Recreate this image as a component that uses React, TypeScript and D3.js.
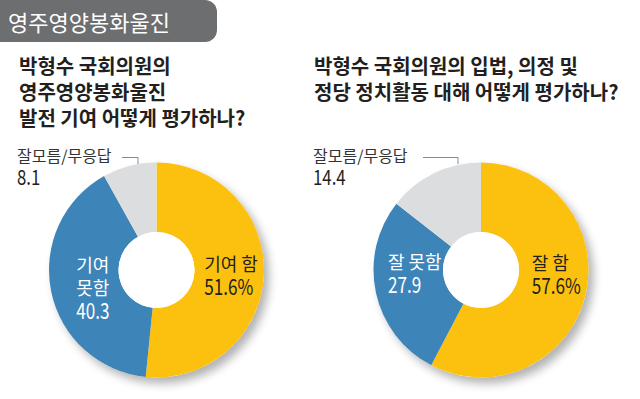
import * as d3 from "d3";

const headerText = "영주영양봉화울진";

const leftTitle = ["박형수 국회의원의", "영주영양봉화울진", "발전 기여 어떻게 평가하나?"];
const leftCategories = ["기여 함", "기여 못함", "잘모름/무응답"];
const leftValues = [51.6, 40.3, 8.1];

const rightTitle = ["박형수 국회의원의 입법, 의정 및", "정당 정치활동 대해 어떻게 평가하나?"];
const rightCategories = ["잘 함", "잘 못함", "잘모름/무응답"];
const rightValues = [57.6, 27.9, 14.4];

const colors = ["#fcc10f", "#3d84b8", "#dcdddf"];
const FONT = "'Noto Sans CJK KR', 'Noto Sans', sans-serif";

type LabelPos = { dx: number; dy: number };

type DonutProps = {
  cx: number;
  cy: number;
  titleX: number;
  title: string[];
  categories: string[];
  values: number[];
  sliceLabels: { lines: string[]; pos: LabelPos; color: string }[];
  otherX: number;
  lineStart: number;
  lineEnd: number;
  id: string;
};

const R = 107.5;
const R0 = 38;

const Donut = ({ cx, cy, titleX, title, categories, values, sliceLabels, otherX, lineStart, lineEnd, id }: DonutProps) => {
  const pie = d3.pie<number>().sort(null).value((d) => d);
  const arcs = pie(values);
  const arc = d3.arc<d3.PieArcDatum<number>>().innerRadius(R0).outerRadius(R);
  const fmt = d3.format(".1f");

  return (
    <g>
      {title.map((t, i) => (
        <text key={i} x={titleX} y={74 + i * 26} fontSize={20} fontWeight={700} fill="#231f20" fontFamily={FONT}>
          {t}
        </text>
      ))}

      {/* 잘모름/무응답 label + leader line */}
      <text x={otherX} y={162} fontSize={16} fill="#333" fontFamily={FONT}>
        {categories[2]}
      </text>
      <text
        transform={`translate(${otherX},185) scale(0.8,1)`}
        fontSize={21}
        fill="#231f20"
        fontFamily={FONT}
      >
        {fmt(values[2])}
      </text>
      <polyline
        points={`${lineStart},157.5 ${lineEnd},157.5 ${lineEnd},164`}
        fill="none"
        stroke="#8a8a8a"
        strokeWidth={1}
      />

      <g transform={`translate(${cx},${cy})`}>
        <circle cx={5} cy={6} r={R} fill="#000" opacity={0.3} filter={`url(#blur-${id})`} />
        <circle r={R} fill="#fff" />
        {arcs.map((a, i) => (
          <path key={i} d={arc(a) || ""} fill={colors[i]} />
        ))}
        <circle r={R0} fill="#fff" />
        {sliceLabels.map((s, i) => {
          const [x, y] = arc.centroid(arcs[i]);
          return (
            <g key={i} transform={`translate(${x + s.pos.dx},${y + s.pos.dy})`}>
              {s.lines.map((l, j) => {
                const isNum = /^[0-9.%]+$/.test(l);
                return isNum ? (
                  <text
                    key={j}
                    transform={`translate(0,${j * 23 + 1}) scale(0.78,1)`}
                    fontSize={22}
                    fill={s.color}
                    fontFamily={FONT}
                  >
                    {l}
                  </text>
                ) : (
                  <text key={j} y={j * 23} fontSize={18} fill={s.color} fontFamily={FONT}>
                    {l}
                  </text>
                );
              })}
            </g>
          );
        })}
      </g>
    </g>
  );
};

const App = () => {
  const pct = d3.format(".1f");
  return (
    <svg
      width={640}
      height={399}
      viewBox="0 0 640 399"
      style={{ position: "absolute", left: 0, top: 0, background: "#fff" }}
    >
      <defs>
        <filter id="blur-l" x="-30%" y="-30%" width="160%" height="160%">
          <feGaussianBlur stdDeviation={5} />
        </filter>
        <filter id="blur-r" x="-30%" y="-30%" width="160%" height="160%">
          <feGaussianBlur stdDeviation={5} />
        </filter>
      </defs>

      <path d="M0,0 H205 A12,12 0 0 1 217,12 V30 A12,12 0 0 1 205,42 H0 Z" fill="#6d6e70" />
      <text x={8} y={31} fontSize={22} fill="#fff" fontFamily={FONT}>
        {headerText}
      </text>

      <Donut
        id="l"
        cx={156.5}
        cy={270}
        titleX={19}
        title={leftTitle}
        categories={leftCategories}
        values={leftValues}
        otherX={17}
        lineStart={122}
        lineEnd={138}
        sliceLabels={[
          { lines: [leftCategories[0], `${pct(leftValues[0])}%`], pos: { dx: -25, dy: -3 }, color: "#231f20" },
          { lines: ["기여", "못함", pct(leftValues[1])], pos: { dx: -9, dy: -13 }, color: "#fff" },
        ]}
      />
      <Donut
        id="r"
        cx={481}
        cy={270}
        titleX={314}
        title={rightTitle}
        categories={rightCategories}
        values={rightValues}
        otherX={313}
        lineStart={423}
        lineEnd={458}
        sliceLabels={[
          { lines: [rightCategories[0], `${pct(rightValues[0])}%`], pos: { dx: -20, dy: -17 }, color: "#231f20" },
          { lines: [rightCategories[1], pct(rightValues[1])], pos: { dx: -22, dy: -16 }, color: "#fff" },
        ]}
      />
    </svg>
  );
};

export default App;
